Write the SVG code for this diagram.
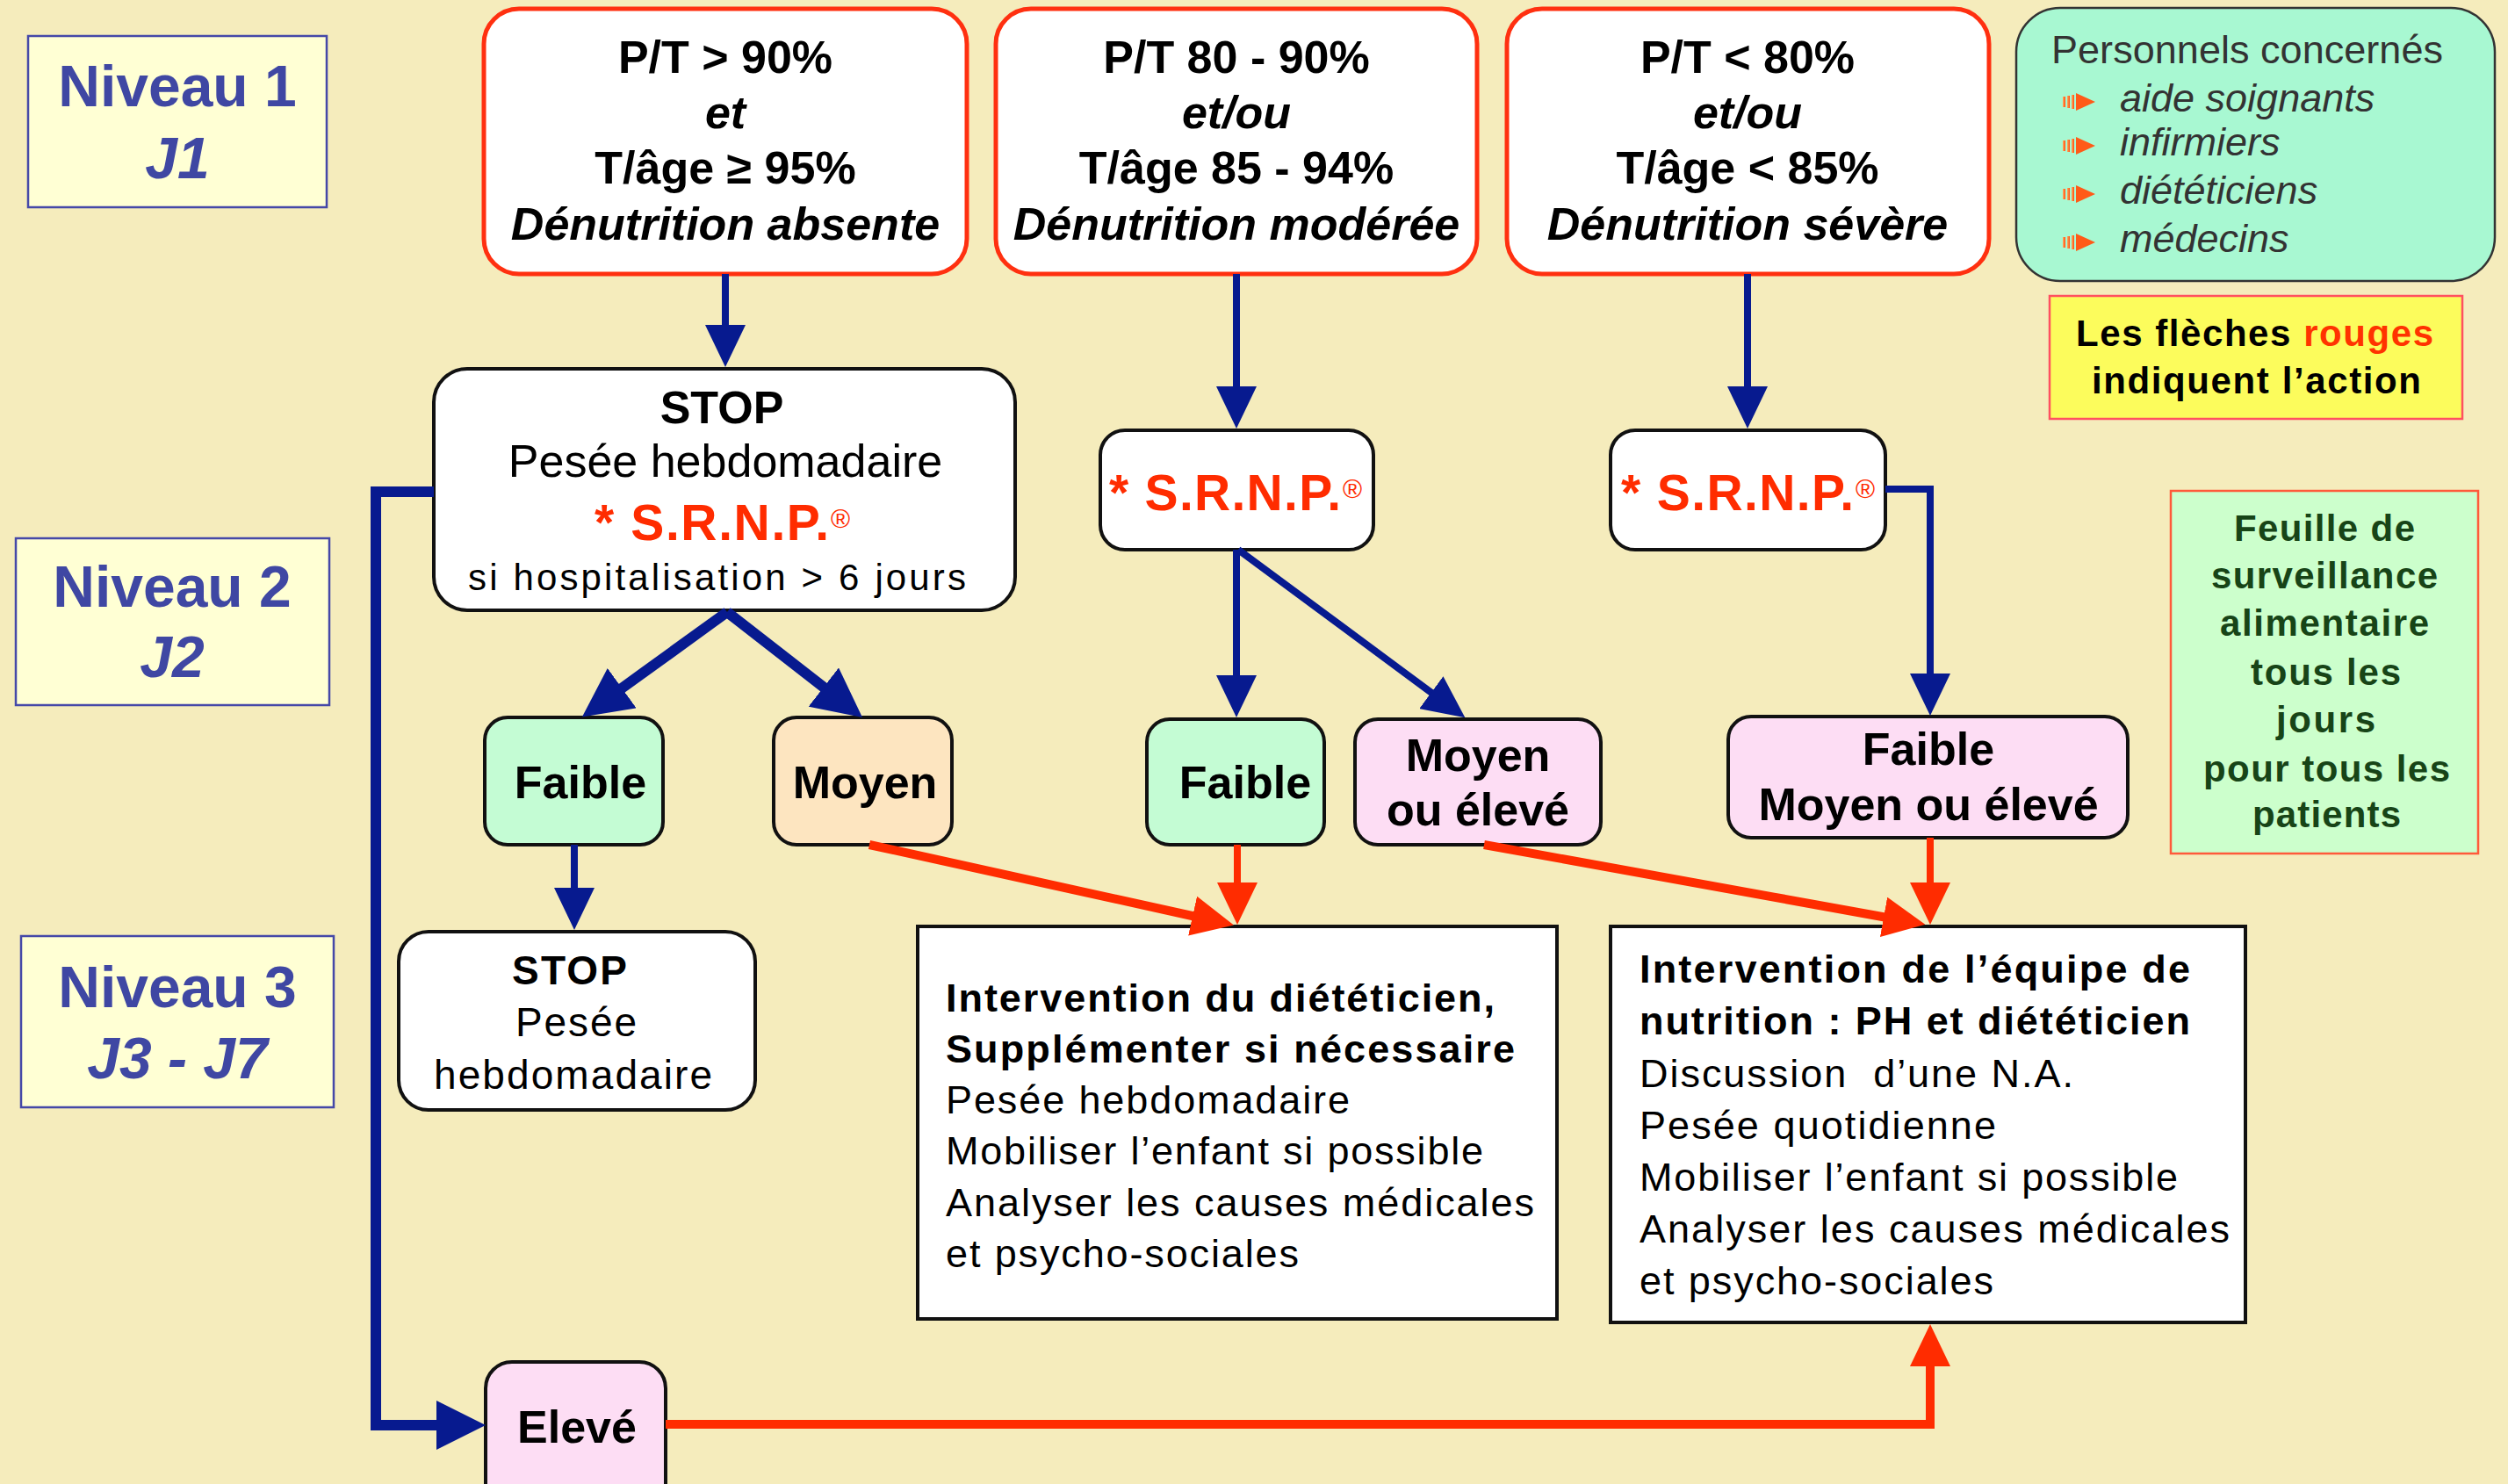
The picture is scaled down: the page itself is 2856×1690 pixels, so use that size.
<svg xmlns="http://www.w3.org/2000/svg" width="2856" height="1690" viewBox="0 0 2856 1690">
<style>
text{font-family:"Liberation Sans",Arial,Helvetica,sans-serif;fill:#000}
.b{font-weight:bold}
.i{font-style:italic}
.c{text-anchor:middle}
.niv{fill:#FFFFD4;stroke:#4548A8;stroke-width:2.5}
.nt{fill:#3F47A3;font-weight:bold;font-size:66px;text-anchor:middle}
.top{fill:#fff;stroke:#FF3010;stroke-width:5}
.wb{fill:#fff;stroke:#111;stroke-width:4}
.gr{fill:#C4FCD4;stroke:#111;stroke-width:4}
.pk{fill:#FDDDF4;stroke:#111;stroke-width:4}
.or{fill:#FDE5C0;stroke:#111;stroke-width:4}
.red{fill:#FF2C00}
.bl{fill:none;stroke:#071A8F}
.rd{fill:none;stroke:#FF2C00}
.pers{fill:#333;font-size:45px}
.fe{fill:#174417;font-weight:bold;font-size:42px}
.pre{white-space:pre}
.it{font-size:45px}
</style>
<defs>
<marker id="hb" markerUnits="userSpaceOnUse" markerWidth="48" markerHeight="46" refX="4" refY="23" orient="auto"><path d="M0,0 L48,23 L0,46 Z" fill="#071A8F"/></marker>
<marker id="hbT" markerUnits="userSpaceOnUse" markerWidth="56" markerHeight="56" refX="4" refY="28" orient="auto"><path d="M0,0 L56,28 L0,56 Z" fill="#071A8F"/></marker>
<marker id="hr" markerUnits="userSpaceOnUse" markerWidth="48" markerHeight="46" refX="4" refY="23" orient="auto"><path d="M0,0 L48,23 L0,46 Z" fill="#FF2C00"/></marker>
<linearGradient id="bg" x1="0" x2="1" y1="0" y2="0"><stop offset="0" stop-color="#FFB060"/><stop offset="1" stop-color="#FF4A10"/></linearGradient>
<g id="bul"><rect x="0" y="-6" width="3" height="12" fill="url(#bg)"/><rect x="5" y="-7" width="3" height="14" fill="url(#bg)"/><rect x="10" y="-8" width="3" height="16" fill="url(#bg)"/><path d="M15,-10 L37,0 L15,10 Z" fill="#FF5A18"/></g>
</defs>
<rect x="0" y="0" width="2856" height="1690" fill="#F5ECBC"/>

<g id="niveau1"><rect class="niv" x="32" y="41" width="340" height="195"/><text class="nt" x="202" y="121">Niveau 1</text><text class="nt i" x="202" y="203">J1</text></g>
<g id="niveau2"><rect class="niv" x="18" y="613" width="357" height="190"/><text class="nt" x="196" y="691">Niveau 2</text><text class="nt i" x="196" y="771">J2</text></g>
<g id="niveau3"><rect class="niv" x="24" y="1066" width="356" height="195"/><text class="nt" x="202" y="1147">Niveau 3</text><text class="nt i" x="202" y="1228">J3 - J7</text></g>

<g id="absente"><rect class="top" x="551" y="10" width="550" height="302" rx="40"/>
<text class="b c" font-size="52" x="826" y="83">P/T &gt; 90%</text>
<text class="b i c" font-size="52" x="826" y="146">et</text>
<text class="b c" font-size="52" x="826" y="209">T/âge ≥ 95%</text>
<text class="b i c" font-size="52" x="826" y="273">Dénutrition absente</text></g>

<g id="moderee"><rect class="top" x="1134" y="10" width="548" height="302" rx="40"/>
<text class="b c" font-size="52" x="1408" y="83">P/T 80 - 90%</text>
<text class="b i c" font-size="52" x="1408" y="146">et/ou</text>
<text class="b c" font-size="52" x="1408" y="209">T/âge 85 - 94%</text>
<text class="b i c" font-size="52" x="1408" y="273">Dénutrition modérée</text></g>

<g id="severe"><rect class="top" x="1716" y="10" width="549" height="302" rx="40"/>
<text class="b c" font-size="52" x="1990" y="83">P/T &lt; 80%</text>
<text class="b i c" font-size="52" x="1990" y="146">et/ou</text>
<text class="b c" font-size="52" x="1990" y="209">T/âge &lt; 85%</text>
<text class="b i c" font-size="52" x="1990" y="273">Dénutrition sévère</text></g>

<g id="personnels"><rect x="2296" y="9" width="545" height="311" rx="50" fill="#A8F8D2" stroke="#333" stroke-width="2.5"/>
<text class="pers" x="2336" y="72" textLength="446" lengthAdjust="spacing">Personnels concernés</text>
<use href="#bul" x="2349" y="116"/><text class="pers i" x="2414" y="127">aide soignants</text>
<use href="#bul" x="2349" y="166"/><text class="pers i" x="2414" y="177">infirmiers</text>
<use href="#bul" x="2349" y="221"/><text class="pers i" x="2414" y="232">diététiciens</text>
<use href="#bul" x="2349" y="276"/><text class="pers i" x="2414" y="287">médecins</text></g>

<g id="legende"><rect x="2334" y="337" width="470" height="140" fill="#FCFC5C" stroke="#FF5060" stroke-width="2.5"/>
<text class="b" font-size="42" x="2364" y="394" textLength="407" lengthAdjust="spacing">Les flèches <tspan fill="#FF3300">rouges</tspan></text>
<text class="b" font-size="42" x="2382" y="448" textLength="375" lengthAdjust="spacing">indiquent l’action</text></g>

<g id="feuille"><rect x="2472" y="559" width="350" height="413" fill="#CCFFCC" stroke="#FF5A3A" stroke-width="2.5"/>
<text class="fe" x="2544" y="616" textLength="206" lengthAdjust="spacing">Feuille de</text>
<text class="fe" x="2518" y="670" textLength="258" lengthAdjust="spacing">surveillance</text>
<text class="fe" x="2528" y="724" textLength="238" lengthAdjust="spacing">alimentaire</text>
<text class="fe" x="2563" y="780" textLength="171" lengthAdjust="spacing">tous les</text>
<text class="fe" x="2592" y="834" textLength="113" lengthAdjust="spacing">jours</text>
<text class="fe" x="2509" y="890" textLength="281" lengthAdjust="spacing">pour tous les</text>
<text class="fe" x="2565" y="942" textLength="169" lengthAdjust="spacing">patients</text></g>

<g id="stop1"><rect class="wb" x="494" y="420" width="662" height="275" rx="38"/>
<text class="b c" font-size="52" x="822" y="482">STOP</text>
<text class="c" font-size="52" x="826" y="543">Pesée hebdomadaire</text>
<text class="b red" font-size="57"><tspan x="677" y="615" textLength="267" lengthAdjust="spacing" class="red">* S.R.N.P.</tspan><tspan x="946" y="601" font-size="30" class="red" font-weight="normal">®</tspan></text>
<text font-size="42" x="533" y="672" textLength="567" lengthAdjust="spacing">si hospitalisation &gt; 6 jours</text></g>

<g id="srnp2"><rect class="wb" x="1253" y="490" width="311" height="136" rx="28"/>
<text class="b red" font-size="57"><tspan x="1263" y="581" textLength="264" lengthAdjust="spacing" class="red">* S.R.N.P.</tspan><tspan x="1529" y="567" font-size="30" class="red" font-weight="normal">®</tspan></text></g>

<g id="srnp3"><rect class="wb" x="1834" y="490" width="313" height="136" rx="28"/>
<text class="b red" font-size="57"><tspan x="1846" y="581" textLength="265" lengthAdjust="spacing" class="red">* S.R.N.P.</tspan><tspan x="2113" y="567" font-size="30" class="red" font-weight="normal">®</tspan></text></g>

<g id="faible1"><rect class="gr" x="552" y="817" width="203" height="145" rx="26"/><text class="b c" font-size="52" x="661" y="909">Faible</text></g>
<g id="moyen1"><rect class="or" x="881" y="817" width="203" height="145" rx="26"/><text class="b c" font-size="52" x="985" y="909">Moyen</text></g>
<g id="faible2"><rect class="gr" x="1306" y="819" width="202" height="143" rx="26"/><text class="b c" font-size="52" x="1418" y="909">Faible</text></g>
<g id="moyeneleve2"><rect class="pk" x="1543" y="819" width="280" height="143" rx="26"/><text class="b c" font-size="52" x="1683" y="878">Moyen</text><text class="b c" font-size="52" x="1683" y="940">ou élevé</text></g>
<g id="tous3"><rect class="pk" x="1968" y="816" width="455" height="138" rx="26"/><text class="b c" font-size="52" x="2196" y="871">Faible</text><text class="b c" font-size="52" x="2196" y="934">Moyen ou élevé</text></g>

<g id="stop2"><rect class="wb" x="454" y="1061" width="406" height="203" rx="34"/>
<text class="b" font-size="46" x="583" y="1121" textLength="131" lengthAdjust="spacing">STOP</text>
<text font-size="46" x="587" y="1180" textLength="138" lengthAdjust="spacing">Pesée</text>
<text font-size="46" x="494" y="1240" textLength="317" lengthAdjust="spacing">hebdomadaire</text></g>

<g id="intervention1"><rect class="wb" x="1045" y="1055" width="728" height="447"/>
<text class="b it" x="1077" y="1152" textLength="625" lengthAdjust="spacing">Intervention du diététicien,</text>
<text class="b it" x="1077" y="1210" textLength="648" lengthAdjust="spacing">Supplémenter si nécessaire</text>
<text class="it" x="1077" y="1268" textLength="460" lengthAdjust="spacing">Pesée hebdomadaire</text>
<text class="it" x="1077" y="1326" textLength="612" lengthAdjust="spacing">Mobiliser l’enfant si possible</text>
<text class="it" x="1077" y="1385" textLength="670" lengthAdjust="spacing">Analyser les causes médicales</text>
<text class="it" x="1077" y="1443" textLength="402" lengthAdjust="spacing">et psycho-sociales</text></g>

<g id="intervention2"><rect class="wb" x="1834" y="1055" width="723" height="451"/>
<text class="b it" x="1867" y="1119" textLength="627" lengthAdjust="spacing">Intervention de l’équipe de</text>
<text class="b it" x="1867" y="1178" textLength="627" lengthAdjust="spacing">nutrition : PH et diététicien</text>
<text class="pre it" x="1867" y="1238" textLength="494" lengthAdjust="spacing">Discussion  d’une N.A.</text>
<text class="it" x="1867" y="1297" textLength="406" lengthAdjust="spacing">Pesée quotidienne</text>
<text class="it" x="1867" y="1356" textLength="613" lengthAdjust="spacing">Mobiliser l’enfant si possible</text>
<text class="it" x="1867" y="1415" textLength="672" lengthAdjust="spacing">Analyser les causes médicales</text>
<text class="it" x="1867" y="1474" textLength="403" lengthAdjust="spacing">et psycho-sociales</text></g>

<g id="eleve"><rect class="pk" x="553" y="1551" width="205" height="180" rx="30"/><text class="b c" font-size="52" x="657" y="1643">Elevé</text></g>

<g id="connecteurs">
<path class="bl" stroke-width="8" d="M826,312 V374" marker-end="url(#hb)"/>
<path class="bl" stroke-width="8" d="M1408,312 V444" marker-end="url(#hb)"/>
<path class="bl" stroke-width="8" d="M1990,312 V444" marker-end="url(#hb)"/>
<path class="bl" stroke-width="8" d="M1408,626 V773" marker-end="url(#hb)"/>
<path class="bl" stroke-width="8" d="M1410,626 L1633,791" marker-end="url(#hb)"/>
<path class="bl" stroke-width="8" d="M2147,557 H2198 V771" marker-end="url(#hb)"/>
<path class="bl" stroke-width="12" d="M828,697 L705,786" marker-end="url(#hbT)"/>
<path class="bl" stroke-width="12" d="M828,697 L941,785" marker-end="url(#hbT)"/>
<path class="bl" stroke-width="8" d="M654,962 V1015" marker-end="url(#hb)"/>
<path class="bl" stroke-width="12" d="M494,560 H428 V1623 H501" marker-end="url(#hbT)"/>
<path class="rd" stroke-width="10" d="M990,962 L1362,1044" marker-end="url(#hr)"/>
<path class="rd" stroke-width="8" d="M1409,962 V1009" marker-end="url(#hr)"/>
<path class="rd" stroke-width="10" d="M1690,962 L2149,1045" marker-end="url(#hr)"/>
<path class="rd" stroke-width="8" d="M2198,954 V1009" marker-end="url(#hr)"/>
<path class="rd" stroke-width="10" d="M758,1622 H2198 V1552" marker-end="url(#hr)"/>
</g>
</svg>
